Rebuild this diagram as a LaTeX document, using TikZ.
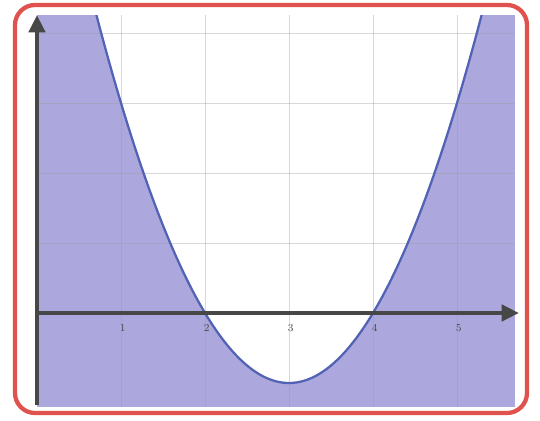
\documentclass[tikz,border=0pt]{standalone}
\usetikzlibrary{arrows.meta}
\definecolor{framered}{HTML}{E0524E}
\definecolor{shadelav}{HTML}{ACA8DD}
\definecolor{curveblue}{HTML}{5262B4}
\definecolor{axisgray}{HTML}{474747}
\definecolor{gridgray}{HTML}{9A9A9A}
\tikzset{
  axisline/.style={draw=axisgray,line width=3.6pt,-{Triangle[length=13pt,width=12pt]}},
  gridline/.style={draw=gridgray,line width=0.6pt,opacity=0.38},
  curveline/.style={draw=curveblue,line width=1.7pt},
  ticklabel/.style={font=\footnotesize,text=axisgray,inner sep=1pt},
  redframe/.style={draw=framered,line width=3.2pt,rounded corners=15pt}
}

\begin{document}
\begin{tikzpicture}[x=63pt,y=52.5pt,>=Latex]
  \fill[white] (-0.4405,-1.5286) rectangle (5.988,4.4714);
  \useasboundingbox (-0.4405,-1.5286) rectangle (5.988,4.4714);
  % plot window
  \coordinate (sw) at (0,-1.343);
  \coordinate (ne) at (5.69,4.257);
  \begin{scope}
    \clip (sw) rectangle (ne);
    \fill[shadelav] (sw) rectangle (ne);
    \fill[white] plot[domain=0.5:5.5,samples=80,smooth] (\x,{(\x-3)^2-1}) -- cycle;
    \foreach \gx in {1,...,5}
      \draw[gridline] (\gx,-1.343) -- (\gx,4.257);
    \foreach \gy in {1,...,4}
      \draw[gridline] (0,\gy) -- (5.69,\gy);
    \draw[curveline] plot[domain=0.5:5.5,samples=80,smooth] (\x,{(\x-3)^2-1});
  \end{scope}
  % axes
  \coordinate (ybot) at (0,-1.32);
  \coordinate (ytop) at (0,4.257);
  \coordinate (xleft) at (0,0);
  \coordinate (xright) at (5.738,0);
  \draw[axisline] (ybot) -- (ytop);
  \draw[axisline] (xleft) -- (xright);
  \foreach \n in {1,...,5}
    \node[ticklabel] (tick\n) at (\n+0.02,-0.21) {\n};
  % frame
  \draw[redframe] (-0.262,-1.4286) rectangle (5.833,4.4);
\end{tikzpicture}
\end{document}
